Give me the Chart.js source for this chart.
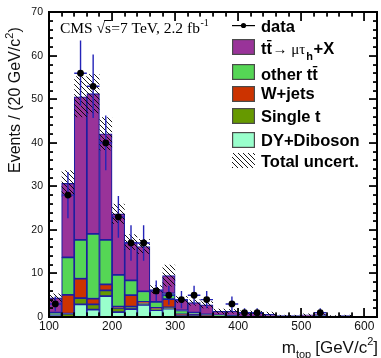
<!DOCTYPE html>
<html><head><meta charset="utf-8">
<script src="https://cdn.jsdelivr.net/npm/chart.js@4/dist/chart.umd.min.js"></script>
<style>html,body{margin:0;padding:0;background:#fff;}#wrap{position:relative;width:381px;height:358px;}#ov{position:absolute;left:0;top:0;pointer-events:none;}</style>
</head><body><div id="wrap"><canvas id="c" width="381" height="358"></canvas><canvas id="ov" width="381" height="358"></canvas></div>
<script>
// ---- data (bin centers in GeV/c^2, 20 GeV bins from 100 to 620) ----
const massBins   = [110,130,150,170,190,210,230,250,270,290,310,330,350,370,390,410,430,450,470,490,510,530,550,570,590,610];
const dyDiboson  = [0.4,0,2.9,1.7,4.8,1.1,1.8,2.8,1.6,1.9,0.3,0.3,0.1,0,0,0,0,0,0,0,0,0.4,0,0,0,0];
const singleTop  = [0,0.8,1.45,1.2,1.3,1.0,0.6,0.4,0.2,0.3,0.1,0.1,0.1,0.1,0,0,0,0,0,0,0,0,0,0,0,0];
const wJets      = [0,4.3,4.45,1.3,1.4,0.3,2.6,0.3,0.3,1.9,0.2,0.1,0.1,0.1,0.1,0,0,0.2,0,0,0,0,0,0,0,0];
const otherTT    = [0.6,8.6,8.9,14.9,10.2,7.3,3.4,2.4,1.4,1.3,0.9,0.5,0.3,0.2,0.2,0.1,0.1,0,0,0,0,0,0,0,0,0];
const ttMuTau    = [3.4,17.0,32.9,32.2,24.4,14.0,8.8,10.3,2.8,4.1,2.5,2.3,2.2,0.9,1.0,0.9,0.8,0.4,0.3,0.3,0.5,0.3,0.2,0.3,0,0];
const totalUnc   = [1.0,3.0,4.7,4.5,3.8,2.3,1.8,1.7,1.0,2.5,0.8,0.7,0.8,0.6,0.5,0.5,0.5,0.6,0.2,0.2,0.3,0.2,0.2,0.2,0,0];
const dataCounts = [3,28,56,53,40,23,17,17,6,5,4,5,4,null,3,1,1,null,null,null,null,1,null,null,null,null];
const dataErr    = [1.7,5.3,7.5,7.3,6.3,4.8,4.1,4.1,2.4,2.2,2.0,2.2,2.0,null,1.7,1.0,1.0,null,null,null,null,1.0,null,null,null,null];
const binWidth = 20;
const xTicks = [100,200,300,400,500,600];
const yTicks = [0,10,20,30,40,50,60,70];

const COL = {tt:'#993399', other:'#55d655', w:'#cc3300', st:'#669900', dy:'#99ffcc', edge:'#1e1ea0', err:'#2424b8'};
const SANS='"Liberation Sans", Arial, sans-serif';
const SERIF='"Liberation Serif", "DejaVu Serif", serif';

const canvas=document.getElementById('c');
let HATCH=null;
function getHatch(ctx){
  if(HATCH) return HATCH;
  const c=document.createElement('canvas'); c.width=5; c.height=5;
  const g=c.getContext('2d'); g.strokeStyle='#000'; g.lineWidth=0.9;
  g.beginPath(); g.moveTo(0,0); g.lineTo(5,5); g.moveTo(-1,4); g.lineTo(1,6); g.moveTo(4,-1); g.lineTo(6,1); g.stroke();
  HATCH=ctx.createPattern(c,'repeat');
  return HATCH;
}

function barDs(label, arr, color){
  return {type:'bar', label, data: massBins.map((x,i)=>({x, y:arr[i]})), backgroundColor:color,
    borderColor:COL.edge, borderWidth:1.2, borderSkipped:false, barPercentage:1, categoryPercentage:1, yAxisID:'y', order:1};
}
const stackTotal = massBins.map((_,i)=>dyDiboson[i]+singleTop[i]+wJets[i]+otherTT[i]+ttMuTau[i]);

const datasets=[
  barDs('DY+Diboson', dyDiboson, COL.dy),
  barDs('Single t', singleTop, COL.st),
  barDs('W+jets', wJets, COL.w),
  barDs('other tt', otherTT, COL.other),
  barDs('tt -> mu tau_h + X', ttMuTau, COL.tt),
  {type:'scatter', label:'data', data: massBins.map((x,i)=>({x, y:dataCounts[i]})).filter(p=>p.y!==null),
   yAxisID:'y2', pointRadius:3.4, pointBackgroundColor:'#000', pointBorderColor:'#000', pointBorderWidth:0, showLine:false, order:0}
];

function frameBox(chart){
  const xs=chart.scales.x, ys=chart.scales.y;
  return {L:Math.round(xs.getPixelForValue(xs.min)), R:Math.round(xs.getPixelForValue(xs.max)),
          T:Math.round(ys.getPixelForValue(ys.max)), B:Math.round(ys.getPixelForValue(ys.min))};
}
function drawFrame(ctx, chart){
  const xs=chart.scales.x, ys=chart.scales.y;
  const {L,R,T,B}=frameBox(chart);
  ctx.save();
  ctx.fillStyle='#000000';
  ctx.fillRect(L-1,T-1,R-L+2,2);
  ctx.fillRect(L-1,B-1,R-L+2,2);
  ctx.fillRect(L-1,T-1,2,B-T+2);
  ctx.fillRect(R-1,T-1,2,B-T+2);
  for(let v=0; v<=70; v+=2){
    const p=Math.round(ys.getPixelForValue(v)), l=(v%10===0)?8:4;
    ctx.fillRect(L,p-0.6,l,1.3);
    ctx.fillRect(R-l,p-0.6,l,1.3);
  }
  for(let v=100; v<=620; v+=20){
    const p=Math.round(xs.getPixelForValue(v)), l=(v%100===0)?9:4.5;
    ctx.fillRect(p-0.6,B-l,1.3,l);
    ctx.fillRect(p-0.6,T,1.3,l);
  }
  ctx.restore();
}

const extras={
  id:'extras',
  beforeDatasetDraw(chart,args){
    if(chart.data.datasets[args.index].type!=='scatter') return;
    const ctx=chart.ctx, x=chart.scales.x, y=chart.scales.y;
    ctx.save(); ctx.fillStyle=getHatch(ctx);
    massBins.forEach((c,i)=>{
      if(!totalUnc[i]) return;
      const xl=x.getPixelForValue(c-binWidth/2), xr=x.getPixelForValue(c+binWidth/2);
      const yt=y.getPixelForValue(stackTotal[i]+totalUnc[i]), yb=y.getPixelForValue(Math.max(0,stackTotal[i]-totalUnc[i]));
      ctx.fillRect(xl,yt,xr-xl,yb-yt);
    });
    ctx.strokeStyle=COL.err; ctx.lineWidth=1.4;
    massBins.forEach((c,i)=>{
      if(dataCounts[i]===null) return;
      const xc=x.getPixelForValue(c), xl=x.getPixelForValue(c-binWidth/2), xr=x.getPixelForValue(c+binWidth/2);
      const yc=y.getPixelForValue(dataCounts[i]);
      ctx.beginPath();
      ctx.moveTo(xl,yc); ctx.lineTo(xr,yc);
      ctx.moveTo(xc,y.getPixelForValue(dataCounts[i]+dataErr[i])); ctx.lineTo(xc,y.getPixelForValue(Math.max(0,dataCounts[i]-dataErr[i])));
      ctx.stroke();
    });
    ctx.restore();
  },
  afterDraw(chart){
    const ctx=chart.ctx;
    try { drawFrame(ctx, chart); } catch(e) {}
    ctx.save();
    ctx.fillStyle='#000'; ctx.textBaseline='alphabetic'; ctx.textAlign='left';
    let tx=60; const tb=33;
    ctx.font='15.5px '+SERIF;
    ctx.fillText('CMS ',tx,tb); tx+=ctx.measureText('CMS ').width;
    ctx.fillText('\u221A',tx,tb); tx+=ctx.measureText('\u221A').width;
    const sw=ctx.measureText('s').width;
    ctx.fillText('s',tx,tb);
    ctx.fillRect(tx-1,tb-13,sw+1,1);
    tx+=sw;
    const rest='=7 TeV, 2.2 fb';
    ctx.fillText(rest,tx,tb); tx+=ctx.measureText(rest).width;
    ctx.font='10px '+SERIF; ctx.fillText('-1',tx+0.5,tb-7);

    ctx.save(); ctx.translate(15.5,173); ctx.rotate(-Math.PI/2);
    ctx.font='16px '+SANS; ctx.fillStyle='#111'; ctx.textBaseline='middle';
    const yt1='Events / (20 GeV/c'; ctx.fillText(yt1,0,0); let w=ctx.measureText(yt1).width;
    ctx.font='11px '+SANS; ctx.fillText('2',w,-6); w+=ctx.measureText('2').width;
    ctx.font='16px '+SANS; ctx.fillText(')',w,0);
    ctx.restore();

    const parts=[['m','17px',0],['top','11px',5],['[GeV/c','17px',0],['2','11px',-8],[']','17px',0]];
    let tot=0; parts.forEach(p=>{ctx.font=p[1]+' '+SANS; tot+=ctx.measureText(p[0]).width+(p[0]==='[GeV/c'?4:0);});
    let xx=378-tot; ctx.fillStyle='#111';
    parts.forEach(p=>{ ctx.font=p[1]+' '+SANS; if(p[0]==='[GeV/c') xx+=4; ctx.fillText(p[0],xx,353+p[2]); xx+=ctx.measureText(p[0]).width; });

    const BX=232, BW=23, TX=261, LF='bold 16.5px '+SANS;
    ctx.fillStyle='#000';
    ctx.fillRect(BX,25,BW,1.2);
    ctx.beginPath(); ctx.arc(BX+BW/2,25.5,2.6,0,Math.PI*2); ctx.fill();
    ctx.font=LF; ctx.fillText('data',TX,31.5);
    const box=(y0,h,col)=>{ ctx.fillStyle='#4a4a4a'; ctx.fillRect(BX,y0,BW,h); ctx.fillStyle=col; ctx.fillRect(BX+1.2,y0+1.2,BW-2.4,h-2.4); ctx.fillStyle='#000'; };
    const ttbar=(x0,base)=>{ ctx.font=LF; ctx.fillText('tt',x0,base); const t1=ctx.measureText('t').width;
      ctx.fillRect(x0+t1+0.5,base-14,t1-1,1.3);
      return x0+ctx.measureText('tt').width; };
    box(39,16,COL.tt);
    let lx=ttbar(TX,54);
    ctx.font='15px '+SERIF; ctx.fillText('\u2192 \u03BC\u03C4',lx+0.5,54); lx+=ctx.measureText('\u2192 \u03BC\u03C4').width+1.5;
    ctx.font='bold 11px '+SANS; ctx.fillText('h',lx,60); lx+=ctx.measureText('h').width+0.5;
    ctx.font=LF; ctx.fillText('+X',lx,54);
    box(64,16,COL.other);
    ctx.font=LF; ctx.fillText('other ',TX,80); ttbar(TX+ctx.measureText('other ').width,80);
    box(86,16,COL.w); ctx.font=LF; ctx.fillText('W+jets',TX,99);
    box(108,16,COL.st); ctx.font=LF; ctx.fillText('Single t',TX,122);
    box(132,16,COL.dy); ctx.font=LF; ctx.fillText('DY+Diboson',TX,146);
    ctx.fillStyle=getHatch(ctx); ctx.fillRect(BX,153,BW,15); ctx.fillStyle='#000';
    ctx.font=LF; ctx.fillText('Total uncert.',TX,167);
    ctx.restore();
  }
};

const chart=new Chart(canvas,{
  type:'bar',
  data:{datasets},
  options:{
    responsive:false, animation:false, devicePixelRatio:1, events:[],
    layout:{padding:{top:11,right:3,left:0,bottom:0}},
    plugins:{legend:{display:false}, tooltip:{enabled:false}},
    scales:{
      x:{type:'linear', min:100, max:620, offset:false, stacked:true, grid:{display:false, drawTicks:false},
         border:{display:false},
         afterBuildTicks(s){ s.ticks = xTicks.map(v=>({value:v})); },
         ticks:{font:{family:SANS,size:12}, color:'#111', padding:2, maxRotation:0, autoSkip:false},
         afterFit(s){ s.height=41; }},
      y:{type:'linear', min:0, max:70, stacked:true, grid:{display:false, drawTicks:false},
         border:{display:false},
         afterBuildTicks(s){ s.ticks = yTicks.map(v=>({value:v})); },
         ticks:{font:{family:SANS,size:10.5}, color:'#111', padding:6},
         afterFit(s){ s.width=49; }},
      y2:{type:'linear', min:0, max:70, display:false}
    }
  },
  plugins:[extras]
});

// overlay: frame + inward ticks positioned through the chart's own scales
const ov=document.getElementById('ov');
const og=ov.getContext('2d');
try {
  drawFrame(og, chart);
  const fb=frameBox(chart);
  const div=document.createElement('div');
  div.style.cssText='position:absolute;box-sizing:border-box;border:2px solid #000;pointer-events:none;left:'+(fb.L-1)+'px;top:'+(fb.T-1)+'px;width:'+(fb.R-fb.L+2)+'px;height:'+(fb.B-fb.T+2)+'px;';
  document.getElementById('wrap').appendChild(div);
} catch(e) {
  og.fillStyle='#f00'; og.font='10px sans-serif'; og.fillText('ERR '+e.message,60,200);
}
</script></body></html>
